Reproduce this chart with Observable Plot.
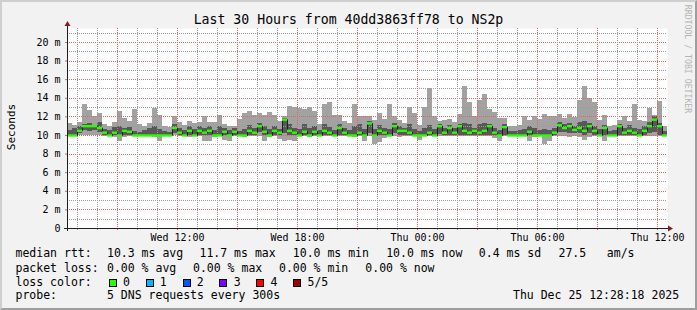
<!DOCTYPE html>
<html><head><meta charset="utf-8">
<script src="https://cdn.jsdelivr.net/npm/d3@7"></script>
<script src="https://cdn.jsdelivr.net/npm/@observablehq/plot@0.6"></script>
<style>
html,body{margin:0;padding:0;background:#f2f2f2;}
#wrap{position:relative;width:697px;height:310px;background:#f2f2f2;overflow:hidden;font-family:"DejaVu Sans Mono",monospace;color:#000;}
#chart{position:absolute;left:0;top:0;}
.t{position:absolute;white-space:pre;line-height:1;}
.box{position:absolute;width:8px;height:8px;box-sizing:border-box;border:1px solid #000;}
#frame{position:absolute;left:0;top:0;width:697px;height:310px;box-sizing:border-box;border-style:solid;border-width:2px;border-color:#cfcfcf #9e9e9e #9e9e9e #cfcfcf;pointer-events:none;}
</style></head><body>
<div id="wrap"><div id="chart"></div><div id="frame"></div></div>
<script>
// ---- data (ms), one sample per 15 minutes starting Wed 06:30 ----
const med = [10.0,10.0,10.5,11.0,11.0,11.0,10.8,10.3,10.0,10.3, 10.0,10.5,10.4,10.0,10.0,10.0,10.0,10.0,10.0,10.0,
             10.0,10.8,10.3,10.0,10.5,10.0,10.5,10.3,10.5,10.0, 10.0,10.4,10.0,10.4,10.0,10.0,10.5,10.3,11.0,10.4,
             10.0,10.5,10.3,11.7,10.5,10.3,10.0,10.4,10.0,10.4, 10.0,10.5,10.3,10.0,10.8,10.3,10.0,10.0,10.3,10.0,
             11.3,10.0,10.5,10.3,10.0,11.0,10.5,10.5,10.3,10.0, 10.0,10.0,10.3,10.0,11.0,10.3,10.8,10.3,11.0,10.5,
             10.3,10.5,10.3,10.5,11.0,10.3,10.0,10.9,10.0,10.0, 10.0,10.0,10.4,10.0,10.0,10.0,10.0,10.3,11.1,10.8,
             11.0,10.6,10.8,10.5,11.0,10.5,10.0,10.8,10.0,10.0, 11.0,10.3,10.5,10.3,10.0,10.5,11.0,11.7,11.0,10.0];
const lo  = [9.9,9.9,10.0,10.0,10.0,10.0,10.0,9.9,9.9,9.8, 9.3,9.8,9.9,9.9,9.9,9.9,9.9,9.8,9.3,9.9,
             9.9,10.0,9.9,9.9,9.8,9.9,9.9,9.3,9.4,9.8, 9.9,9.5,9.4,9.9,9.9,9.8,9.9,9.9,9.9,9.3,
             9.8,9.9,9.6,9.4,9.5,9.4,9.9,9.9,9.8,9.9, 9.9,9.9,9.9,9.9,9.9,9.9,9.9,9.8,9.9,9.4,
             9.9,9.0,9.2,9.7,9.9,9.9,9.8,9.9,9.9,9.9, 9.5,9.9,9.9,9.9,9.9,9.9,9.9,9.9,9.9,9.9,
             9.9,9.9,9.9,9.9,9.9,9.7,9.3,9.9,9.9,9.9, 9.9,9.9,9.4,9.8,9.9,9.0,9.3,9.9,9.9,9.9,
             9.8,9.9,9.8,9.5,9.8,9.9,9.9,9.4,9.9,9.9, 9.9,9.9,9.9,9.9,9.9,9.9,9.9,9.9,9.9,9.9];
const dlo = [10.0,10.0,10.2,10.5,10.4,10.5,10.3,10.0,10.0,10.0, 10.0,10.0,10.0,10.0,10.0,10.0,10.0,10.0,10.0,10.0,
             10.0,10.2,10.0,10.0,10.0,10.0,10.0,10.0,10.0,10.0, 10.0,10.0,10.0,10.0,10.0,10.0,10.0,10.0,10.3,10.0,
             10.0,10.0,10.0,10.2,10.0,10.0,10.0,10.0,10.0,10.0, 10.0,10.0,10.0,10.0,10.0,10.0,10.0,10.0,10.0,10.0,
             10.2,10.0,10.0,10.0,10.0,10.2,10.0,10.0,10.0,10.0, 10.0,10.0,10.0,10.0,10.1,10.0,10.0,10.0,10.0,10.0,
             10.0,10.0,10.0,10.0,10.0,10.0,10.0,10.0,10.0,10.0, 10.0,10.0,10.0,10.0,10.0,10.0,10.0,10.0,10.3,10.3,
             10.2,10.2,10.2,10.0,10.2,10.0,10.0,10.0,10.0,10.0, 10.0,10.0,10.0,10.0,10.0,10.0,10.2,10.3,10.0,10.0];
const dhi = [10.5,10.8,11.0,11.2,11.3,11.1,11.4,10.6,10.5,10.9, 11.0,10.7,10.9,10.4,10.3,10.5,10.8,11.0,10.6,10.4,
             10.3,11.2,10.8,10.5,11.0,10.6,11.0,10.8,11.0,10.5, 11.0,10.8,10.5,10.8,10.4,10.6,11.1,10.7,11.3,11.0,
             10.6,11.0,10.6,11.8,11.2,10.8,10.6,11.2,10.7,11.0, 10.5,11.2,10.9,10.5,11.2,10.8,10.5,11.0,11.2,10.6,
             11.5,10.6,11.1,10.8,10.6,11.3,11.0,10.8,11.2,10.6, 10.4,10.8,11.1,10.6,11.2,10.8,11.1,10.7,11.2,11.3,
             11.2,10.8,11.2,11.3,11.2,10.7,10.5,11.2,10.4,10.4, 10.5,10.6,11.0,10.7,10.5,10.6,10.5,10.8,11.4,11.2,
             11.3,11.0,11.4,11.5,11.3,11.0,10.6,11.1,10.4,10.5, 11.2,10.8,11.1,10.7,10.6,11.0,11.4,12.0,11.3,10.4];
const hi  = [11.3,11.1,11.4,13.3,12.7,12.0,12.4,11.2,11.0,11.4, 12.6,11.8,11.5,12.8,11.2,11.0,11.3,12.9,12.2,11.0,
             10.9,12.0,11.4,11.1,11.5,11.3,11.4,12.0,11.4,11.4, 12.2,11.2,11.0,11.0,11.7,12.4,12.6,12.2,12.4,12.2,
             12.5,12.2,11.5,12.0,13.1,13.0,12.9,12.8,13.0,12.6, 11.2,13.3,13.5,12.2,12.2,11.5,11.3,13.3,12.0,12.0,
             12.0,11.6,12.4,11.7,13.3,12.0,11.6,11.3,13.0,12.4, 11.1,13.0,15.0,12.0,11.5,11.6,11.7,11.4,12.3,15.3,
             13.5,12.0,13.8,14.4,12.8,12.5,11.8,11.8,11.0,11.0, 11.1,12.0,11.6,12.0,11.7,12.3,12.0,12.0,12.3,11.8,
             12.3,11.9,13.8,15.3,14.0,13.5,11.6,12.2,11.0,11.1, 11.6,12.0,11.5,13.3,11.6,11.5,12.9,12.2,13.7,11.0];

const yMajor = [0,2,4,6,8,10,12,14,16,18,20];
const yLabels = ["0","2 m","4 m","6 m","8 m","10 m","12 m","14 m","16 m","18 m","20 m"];
const yMinor = [1,3,5,7,9,11,13,15,17,19,21];
const xTicks = [12,18,24,30,36];
const xLabels = ["Wed 12:00","Wed 18:00","Thu 00:00","Thu 06:00","Thu 12:00"];
const xMajor = [9,12,15,18,21,24,27,30,33,36];
const xMinor = [7,8,10,11,13,14,16,17,19,20,22,23,25,26,28,29,31,32,34,35];

const titleText = "Last 30 Hours from 40dd3863ff78 to NS2p";
const yTitle = "Seconds";
const watermark = "RRDTOOL / TOBI OETIKER";
const rttStats = ["10.3 ms avg","11.7 ms max","10.0 ms min","10.0 ms now","0.4 ms sd","27.5","am/s"];
const lossStats = ["0.00 % avg","0.00 % max","0.00 % min","0.00 % now"];
const lossLabels = ["0","1","2","3","4","5/5"];
const lossColors = ["#26ff00","#00b8ff","#0059ff","#7e00ff","#ff0000","#a10000"];
const probeText = "5 DNS requests every 300s";
const stamp = "Thu Dec 25 12:28:18 2025";

const T0 = 6.5, STEP = 0.25, T1 = 36.5;
const data = med.map((m, i) => ({t: T0 + i * STEP, med: m, lo: lo[i], dlo: dlo[i], dhi: dhi[i], hi: hi[i]}));

const GRID = "#9c9c9c", MGRID = "#e86060";
const gridStyle = {strokeDasharray: "1,1", shapeRendering: "crispEdges", strokeWidth: 1};

const chart = Plot.plot({
  width: 697, height: 246,
  marginLeft: 67, marginRight: 30, marginTop: 28, marginBottom: 18,
  x: {domain: [T0, T1]},
  y: {domain: [0, 21.5]},
  style: {background: "transparent", fontFamily: "'DejaVu Sans Mono', monospace", fontSize: "10px", color: "#000", overflow: "visible"},
  marks: [
    Plot.frame({fill: "#ffffff", stroke: "none"}),
    Plot.rect(data, {x1: "t", x2: d => d.t + STEP, y1: "lo", y2: "hi", fill: "#a2a2a2", shapeRendering: "crispEdges"}),
    Plot.rect(data, {x1: "t", x2: d => d.t + STEP, y1: "dlo", y2: "dhi", fill: "#585858", shapeRendering: "crispEdges"}),
    Plot.ruleY(yMinor, {stroke: GRID, ...gridStyle}),
    Plot.ruleY(yMajor.slice(1), {stroke: MGRID, ...gridStyle}),
    Plot.ruleX(xMinor, {stroke: GRID, ...gridStyle}),
    Plot.ruleX(xMajor, {stroke: MGRID, ...gridStyle}),
    Plot.line(data, {x: d => d.t + STEP / 2, y: "med", curve: "step", stroke: "#202020", strokeWidth: 1}),
    Plot.ruleY(data, {y: "med", x1: "t", x2: d => d.t + STEP, stroke: lossColors[0], strokeWidth: 2.4}),
    Plot.axisY({ticks: yMajor, tickFormat: d => yLabels[yMajor.indexOf(d)], tickSize: 2, tickPadding: 5, stroke: MGRID, label: null}),
    Plot.axisX({ticks: xMinor, tickFormat: () => "", tickSize: 2, stroke: GRID, label: null}),
    Plot.axisX({ticks: xMajor, tickFormat: () => "", tickSize: 2, stroke: MGRID, label: null}),
    Plot.axisX({ticks: xTicks, tickFormat: d => xLabels[xTicks.indexOf(d)], tickSize: 0, tickPadding: 5, label: null})
  ]
});
document.getElementById("chart").appendChild(chart);

// axis lines and arrows placed with the plot's own scales
const sx = chart.scale("x"), sy = chart.scale("y");
const X0 = sx.apply(T0), X1 = sx.apply(T1), Y0 = sy.apply(0), Y1 = sy.apply(21.5);
const g = d3.select(chart).append("g");
g.append("line").attr("x1", X0 + 0.5).attr("x2", X0 + 0.5).attr("y1", Y0 + 3).attr("y2", Y1 - 3).attr("stroke", "#1f1f1f");
g.append("line").attr("x1", X0 - 3).attr("x2", X1 + 2).attr("y1", Y0 + 0.5).attr("y2", Y0 + 0.5).attr("stroke", "#1f1f1f");
g.append("path").attr("d", `M${X0 + 0.5 - 3},${Y1 - 2}L${X0 + 0.5},${Y1 - 7}L${X0 + 0.5 + 3},${Y1 - 2}Z`).attr("fill", "#802020");
g.append("path").attr("d", `M${X1 + 1},${Y0 + 0.5 - 3}L${X1 + 6},${Y0 + 0.5}L${X1 + 1},${Y0 + 0.5 + 3}Z`).attr("fill", "#802020");

// ---- texts around the chart ----
const wrap = document.getElementById("wrap");
function txt(str, x, yc, size, extra) {
  const d = document.createElement("div");
  d.className = "t";
  d.textContent = str;
  d.style.fontSize = size + "px";
  d.style.left = x + "px";
  d.style.top = (yc - 0.486 * size) + "px";
  if (extra) Object.assign(d.style, extra);
  wrap.insertBefore(d, document.getElementById("frame"));
  return d;
}
txt(titleText, 0, 19.2, 13.2, {width: "697px", textAlign: "center"});
txt(yTitle, 10.5, 127, 11, {transform: "translate(-50%,-50%) rotate(-90deg)", top: "127px"});
txt(watermark, 687.5, 59, 8.2, {transform: "translate(-50%,-50%) rotate(90deg)", top: "59px", color: "#b4b4b4"});

const fs = 11.5;
const rttX = [107, 199.5, 292.8, 386.2, 478.8, 558.5, 606.8];
txt("median rtt:", 15.5, 254, fs);
rttStats.forEach((s, i) => txt(s, rttX[i], 254, fs));
const lossX = [107, 193, 279, 365.3];
txt("packet loss:", 15.5, 268.3, fs);
lossStats.forEach((s, i) => txt(s, lossX[i], 268.3, fs));
txt("loss color:", 15.5, 282.3, fs);
lossLabels.forEach((s, i) => {
  const bx = 108.7 + 36.92 * i;
  const b = document.createElement("div");
  b.className = "box";
  b.style.left = bx + "px"; b.style.top = "278.5px"; b.style.background = lossColors[i];
  wrap.insertBefore(b, document.getElementById("frame"));
  txt(s, bx + 14.2, 282.3, fs);
});
txt("probe:", 15.5, 296, fs);
txt(probeText, 107, 296, fs);
txt(stamp, 513, 296, fs);
</script>
</body></html>
